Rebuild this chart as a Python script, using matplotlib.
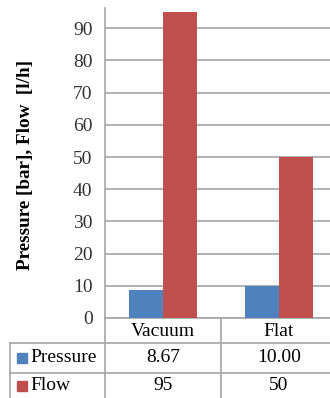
import numpy as np
import matplotlib.pyplot as plt
from matplotlib.lines import Line2D
from matplotlib.patches import Rectangle

categories = ["Vacuum", "Flat"]
series_names = ["Pressure", "Flow"]
pressure = [8.67, 10.00]
flow = [95, 50]
pressure_labels = ["8.67", "10.00"]
flow_labels = ["95", "50"]
colors = ["#4F81BD", "#C0504D"]
grid_color = "#A6A6A6"

W, H = 330, 398
plt.rcParams["font.family"] = ["Liberation Serif", "DejaVu Serif"]

fig = plt.figure(figsize=(W / 100, H / 100), dpi=100)


def fx(px):
    return px / W


def fy(py):
    return 1 - py / H


# plot area (the right edge runs past the picture, as in the source)
left, right, top, bottom = 105, 337, 8, 318
ax = fig.add_axes([fx(left), fy(bottom), fx(right - left), fy(top) - fy(bottom)])

x = np.arange(len(categories))
bw = 0.29
ax.bar(x - bw / 2, pressure, bw, color=colors[0], edgecolor="none", zorder=3)
ax.bar(x + bw / 2, flow, bw, color=colors[1], edgecolor="none", zorder=3)

ax.set_xlim(-0.5, len(categories) - 0.5)
ax.set_ylim(0, 96.3)
ax.set_yticks(range(0, 100, 10))
ax.set_xticks([])
ax.yaxis.grid(True, color=grid_color, linewidth=1.2, zorder=0)
ax.tick_params(axis="y", length=0, pad=9, labelsize=14, colors="#333333")
for s in ["top", "right"]:
    ax.spines[s].set_visible(False)
for s in ["left", "bottom"]:
    ax.spines[s].set_color(grid_color)
    ax.spines[s].set_linewidth(1.2)

fig.text(fx(26), fy(165), "Pressure [bar], Flow  [l/h]", rotation=90,
         ha="center", va="center", fontsize=13.8, fontweight="bold")

# data table under the chart
row_y = [318, 343, 373, 410]
col_x = [left + (right - left) * i / len(categories) for i in range(len(categories) + 1)]
lw = 1.2
for xv in col_x:
    fig.add_artist(Line2D([fx(xv)] * 2, [fy(row_y[0]), fy(row_y[-1])],
                          color=grid_color, lw=lw))
fig.add_artist(Line2D([fx(10)] * 2, [fy(row_y[1]), fy(row_y[-1])],
                      color=grid_color, lw=lw))
for yv in row_y[1:]:
    fig.add_artist(Line2D([fx(10), fx(right)], [fy(yv)] * 2,
                          color=grid_color, lw=lw))

centres = [(col_x[i] + col_x[i + 1]) / 2 for i in range(len(categories))]
for c, name in zip(centres, categories):
    fig.text(fx(c), fy(331), name, ha="center", va="center", fontsize=14)

rows = [pressure_labels, flow_labels]
row_centres = [358, 386]
for r, (name, vals) in enumerate(zip(series_names, rows)):
    yc = row_centres[r]
    fig.add_artist(Rectangle((fx(17), fy(yc + 5)), fx(10), fy(yc - 5) - fy(yc + 5),
                             color=colors[r]))
    fig.text(fx(30), fy(yc), name, ha="left", va="center", fontsize=14)
    for c, v in zip(centres, vals):
        fig.text(fx(c), fy(yc), v, ha="center", va="center", fontsize=14)

fig.savefig("out.png", dpi=100)
